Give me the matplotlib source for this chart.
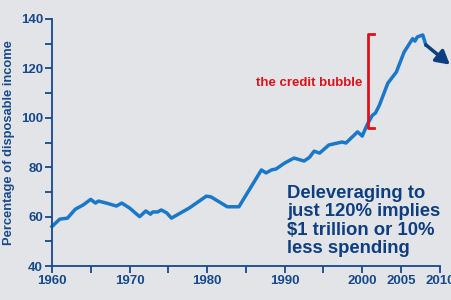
import matplotlib
matplotlib.use('Agg')
import matplotlib.pyplot as plt

plt.rcParams['font.family'] = ['Liberation Sans', 'DejaVu Sans']

# Household debt as % of disposable income
anos = [1960, 1961, 1962, 1963, 1964, 1965, 1965.6, 1966, 1967, 1968.3, 1969, 1970,
        1971.3, 1972.1, 1972.7, 1973, 1973.6, 1974.1, 1974.8, 1975.4, 1977.7, 1979.9,
        1980.5, 1982.6, 1984.1, 1987, 1987.6, 1988.3, 1988.9, 1990, 1991.2, 1992.5,
        1993.2, 1993.8, 1994.5, 1995.7, 1997.4, 1997.9, 1999.4, 2000, 2000.6, 2001.3,
        2001.7, 2002.2, 2003.3, 2004.4, 2005.4, 2006.5, 2006.8, 2007.1, 2007.8, 2008.2]
valores = [56, 59, 59.4, 63, 64.7, 67, 65.5, 66.3, 65.5, 64.3, 65.5, 63.5,
           60, 62.3, 61, 61.9, 61.9, 62.7, 61.5, 59.4, 63.5, 68.3,
           68, 64, 64, 78.9, 77.7, 78.9, 79.3, 81.7, 83.7, 82.5,
           84, 86.5, 85.7, 89, 90.2, 89.8, 94.3, 92.6, 97, 101,
           101.9, 105, 114, 118.5, 126.6, 132, 131, 132.7, 133.5, 129.5]

seta_inicio = (2008.2, 129.5)
seta_fim = (2011.3, 121.5)
bolha_ano = 2000.8
bolha_min, bolha_max = 96, 134

x_ticks = [1960, 1970, 1980, 1990, 2000, 2005, 2010]
x_minor = [1965, 1975, 1985, 1995]
y_ticks = [40, 60, 80, 100, 120, 140]
y_minor = [50, 70, 90, 110, 130]

navy = '#174a8c'
azul = '#1a78c8'
vermelho = '#e0101a'

fig = plt.figure(figsize=(4.52, 3.0), dpi=100)
fig.patch.set_facecolor('#e3e4e7')
ax = fig.add_axes([0.115, 0.113, 0.858, 0.824])
ax.set_facecolor('none')

ax.plot(anos, valores, color=azul, lw=2.5, solid_joinstyle='round', clip_on=False)

# seta de desalavancagem
ax.annotate('', xy=seta_fim, xytext=seta_inicio, annotation_clip=False,
            arrowprops=dict(arrowstyle='-|>,head_length=0.8,head_width=0.45',
                            color='#0b3f7f', lw=2.5, shrinkA=0, shrinkB=0))

# colchete vermelho da bolha de credito
dx = 0.7
ax.plot([bolha_ano + dx, bolha_ano, bolha_ano, bolha_ano + dx],
        [bolha_max, bolha_max, bolha_min, bolha_min], color=vermelho, lw=2, clip_on=False)
ax.text(bolha_ano - 0.8, 114, 'the credit bubble',
        color=vermelho, fontsize=9.5, fontweight='bold', ha='right', va='center')

ax.text(1990.3, 73, 'Deleveraging to\njust 120% implies\n$1 trillion or 10%\nless spending',
        color='#0d3f80', fontsize=13.3, fontweight='bold', ha='left', va='top',
        linespacing=1.12)

ax.set_xlim(1960, 2010)
ax.set_ylim(40, 140)
ax.set_xticks(x_ticks)
ax.set_xticks(x_minor, minor=True)
ax.set_yticks(y_ticks)
ax.set_yticks(y_minor, minor=True)

for lado in ['top', 'right']:
    ax.spines[lado].set_visible(False)
for lado in ['left', 'bottom']:
    ax.spines[lado].set_color(navy)
    ax.spines[lado].set_linewidth(1.3)

ax.tick_params(which='both', colors=navy, width=1.3, length=5, direction='out')
ax.tick_params(axis='both', labelsize=9.5, pad=1.5)
for lbl in ax.get_xticklabels() + ax.get_yticklabels():
    lbl.set_fontweight('bold')

ax.set_ylabel('Percentage of disposable income', color=navy, fontsize=9.3,
              fontweight='bold', labelpad=4)

fig.savefig('out.png', dpi=100, facecolor=fig.get_facecolor())
